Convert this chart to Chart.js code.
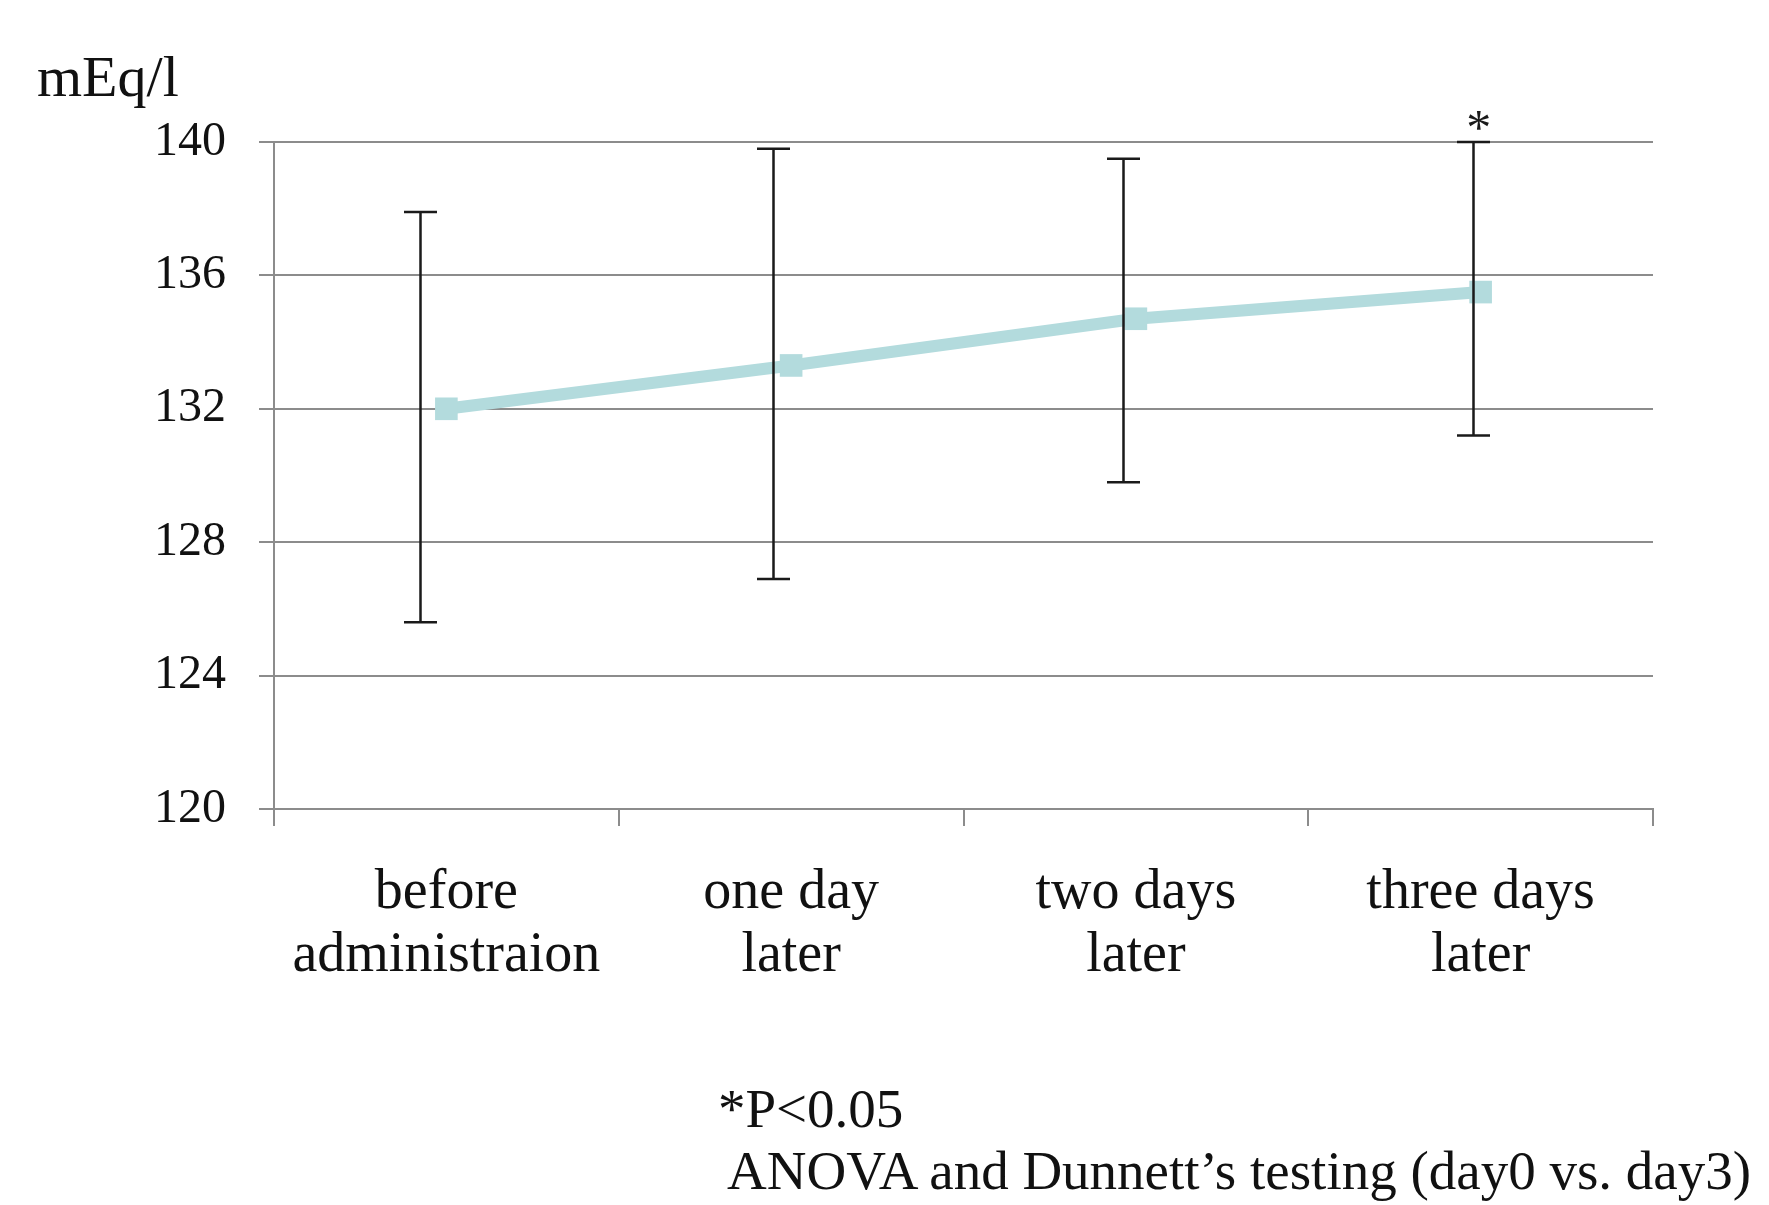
<!DOCTYPE html>
<html>
<head>
<meta charset="utf-8">
<script src="https://cdn.jsdelivr.net/npm/chart.js@4"></script>
<style>
	body{ margin:0; background:#fff; }
	#wrap{ position:relative; width:1769px; height:1205px; font-family:"Liberation Serif", "DejaVu Serif", serif; color:#111; }
	#unit{ position:absolute; left:37px; top:48px; font-size:58px; line-height:58px; }
	.note{ position:absolute; font-size:55px; line-height:62px; white-space:nowrap; }
</style>
</head>
<body>
<div id="wrap">
	<canvas id="chart" width="1769" height="1205"></canvas>
	<div id="unit">mEq/l</div>
	<div class="note" style="left:718px; top:1078px;">*P&lt;0.05</div>
	<div class="note" style="left:727px; top:1140px;">ANOVA and Dunnett’s testing (day0 vs. day3)</div>
</div>
<script>
//Dati.
const labels = [["before", "administraion"], ["one day", "later"], ["two days", "later"], ["three days", "later"]];
const means = [132.0, 133.3, 134.7, 135.5];
const errHigh = [137.9, 139.8, 139.5, 140.0];
const errLow = [125.6, 126.9, 129.8, 131.2];
const marks = ["", "", "", "*"];
const yTicks = [120, 124, 128, 132, 136, 140];

const TEAL = "#b3dbdd";
const GRID = "#8c8c8c";
const FONT = "'Liberation Serif', 'DejaVu Serif', serif";

//Barre d'errore disegnate sopra la linea, con l'asterisco di significativita'.
const errorBars = {
	id: "errorBars",
	afterDatasetsDraw(chart, args, opts){
		const ctx = chart.ctx;
		const x = chart.scales.x, y = chart.scales.y;

		ctx.save();
		ctx.strokeStyle = opts.color;
		ctx.lineWidth = opts.width;
		for(let i=0; i<errHigh.length; i++){
			const px = Math.round(x.getPixelForValue(i) + opts.shift[i]) + 0.5;
			const top = y.getPixelForValue(errHigh[i]);
			const bot = y.getPixelForValue(errLow[i]);

			ctx.beginPath();
			ctx.moveTo(px, top); ctx.lineTo(px, bot);
			ctx.moveTo(px - opts.cap/2, top); ctx.lineTo(px + opts.cap/2, top);
			ctx.moveTo(px - opts.cap/2, bot); ctx.lineTo(px + opts.cap/2, bot);
			ctx.stroke();

			if(marks[i]){
				ctx.fillStyle = opts.color;
				ctx.font = "50px " + FONT;
				ctx.textAlign = "center";
				ctx.textBaseline = "alphabetic";
				ctx.fillText(marks[i], x.getPixelForValue(i) - 2, top + 2);
			}
		}
		ctx.restore();
	}
};

new Chart(document.getElementById("chart"), {
	type: "line",
	data: {
		labels: labels,
		datasets: [{
			data: means,
			borderColor: TEAL,
			backgroundColor: TEAL,
			borderWidth: 12,
			pointStyle: "rect",
			pointRadius: 16,
			pointBorderWidth: 0,
			pointBackgroundColor: TEAL,
			tension: 0
		}]
	},
	options: {
		responsive: false,
		animation: false,
		layout: { padding: { top: 142, right: 116, left: 0, bottom: 0 } },
		plugins: {
			legend: { display: false },
			tooltip: { enabled: false },
			errorBars: { color: "#1a1a1a", width: 2.5, cap: 33, shift: [-26, -18, -13, -8] }
		},
		scales: {
			x: {
				offset: true,
				grid: { offset: true, drawOnChartArea: false, color: GRID, lineWidth: 2, tickLength: 17 },
				border: { color: GRID, width: 2 },
				ticks: { color: "#111", padding: 35, maxRotation: 0, font: { family: FONT, size: 56, lineHeight: 1.14 } },
				afterFit: s => { s.height = 396; }
			},
			y: {
				min: 120,
				max: 140,
				afterBuildTicks: s => { s.ticks = yTicks.map(v => ({ value: v })); },
				grid: { color: GRID, lineWidth: 2, tickLength: 15 },
				border: { color: GRID, width: 2 },
				ticks: { color: "#111", padding: 33, font: { family: FONT, size: 48 } },
				afterFit: s => { s.width = 274; }
			}
		}
	},
	plugins: [errorBars]
});
</script>
</body>
</html>
